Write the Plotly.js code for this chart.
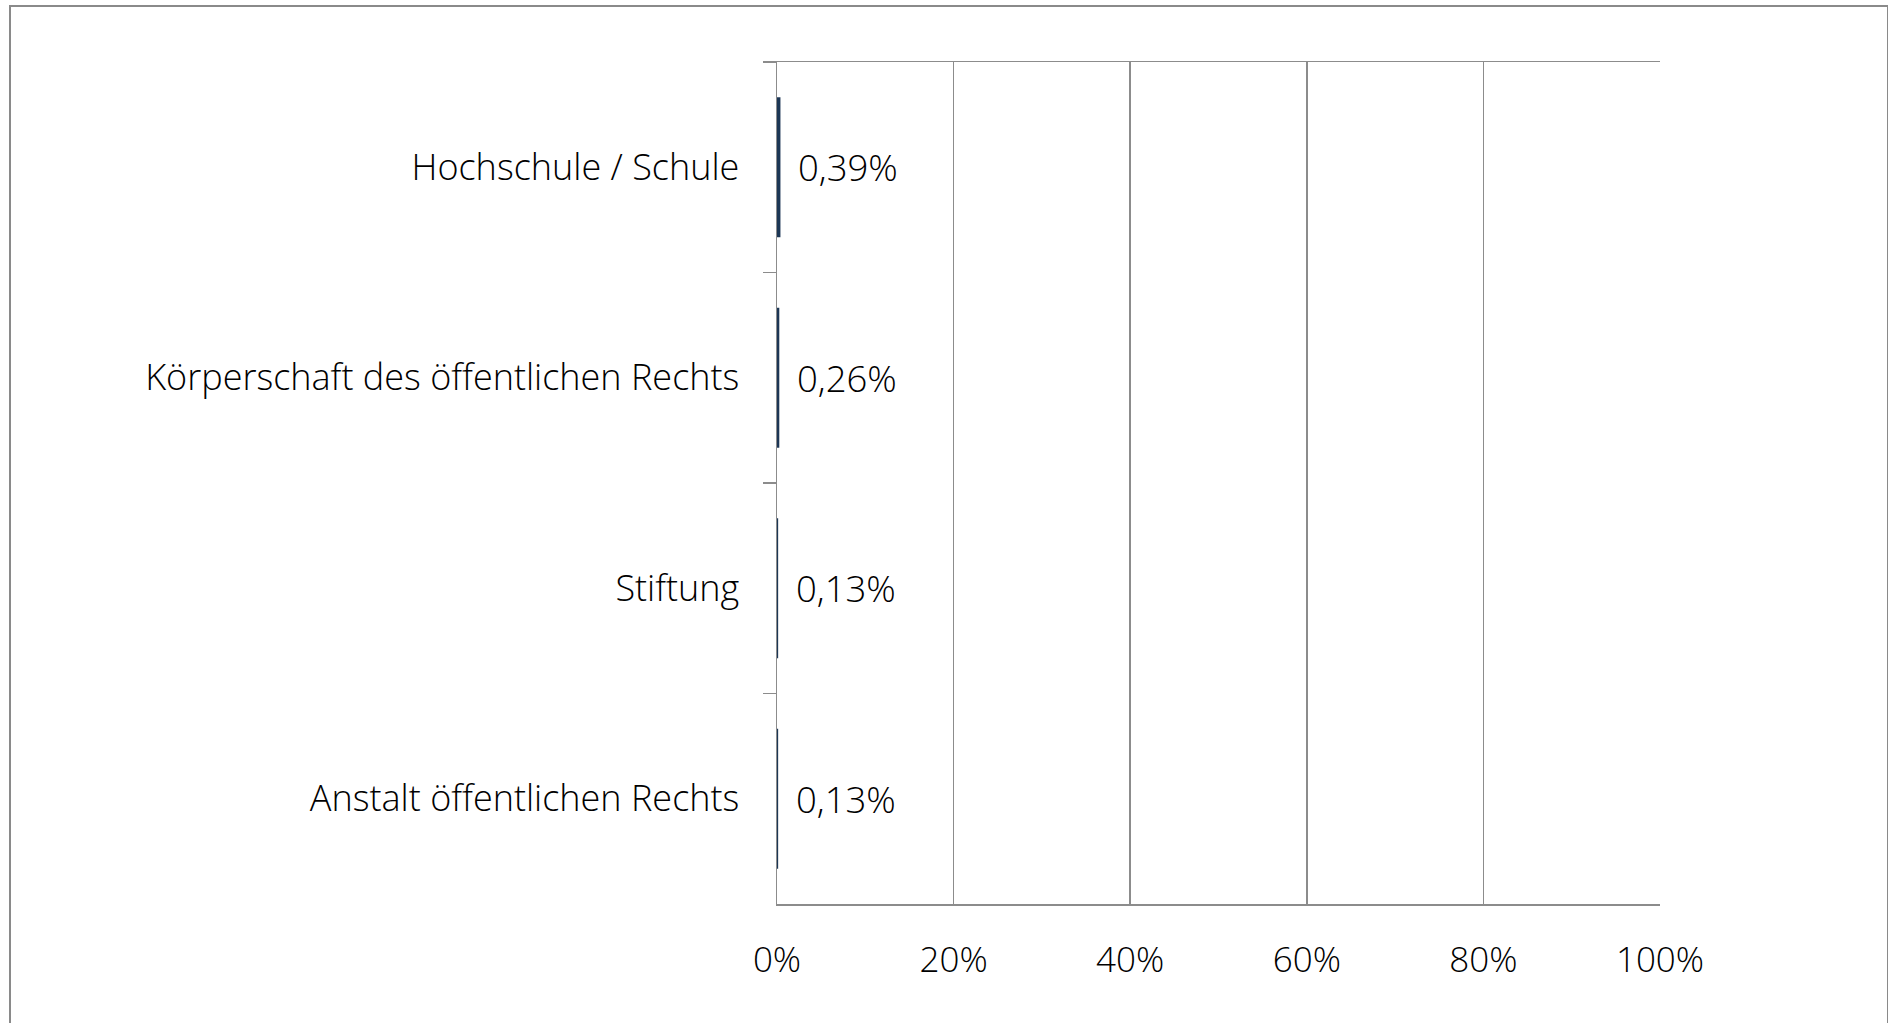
<!DOCTYPE html>
<html>
<head>
<meta charset="utf-8">
<script src="https://cdn.plot.ly/plotly-3.0.1.min.js"></script>
<style>
  html, body { margin: 0; padding: 0; background: #ffffff; }
  #frame { position: absolute; left: 9px; top: 5px; width: 1880px; height: 1030px; border: 2px solid #8a8a8a; box-sizing: border-box; pointer-events: none; z-index: 5; }
  #chart { width: 1888px; height: 1023px; }
</style>
</head>
<body>
<div id="frame"></div>
<div id="chart"></div>
<script>
const categories = ["Hochschule / Schule", "Körperschaft des öffentlichen Rechts", "Stiftung", "Anstalt öffentlichen Rechts"];
const values = [0.0039, 0.0026, 0.0013, 0.0013];
const valueLabels = ["0,39%", "0,26%", "0,13%", "0,13%"];
const xTickValues = [0, 0.2, 0.4, 0.6, 0.8, 1.0];
const xTickLabels = ["0%", "20%", "40%", "60%", "80%", "100%"];

const fontFamily = "Open Sans, Lato, sans-serif";
const gridColor = "#8c8c8c";

const trace = {
  type: "bar",
  orientation: "h",
  x: values,
  y: categories,
  marker: { color: "#1c3655", line: { width: 0 } },
  hoverinfo: "none"
};

const annotations = categories.map((c, i) => ({
  x: values[i], y: c, xref: "x", yref: "y",
  text: valueLabels[i], showarrow: false,
  xanchor: "left", yanchor: "middle", xshift: 16,
  font: { family: fontFamily, size: 36.5, color: "#000000", weight: 300 }
}));

const layout = {
  width: 1888, height: 1023,
  margin: { l: 777, r: 228, t: 62, b: 119 },
  paper_bgcolor: "#ffffff", plot_bgcolor: "#ffffff",
  showlegend: false,
  bargap: 0.335,
  xaxis: {
    range: [0, 1],
    tickvals: xTickValues, ticktext: xTickLabels,
    showgrid: true, gridcolor: gridColor, gridwidth: 1.5,
    showline: true, linecolor: gridColor, linewidth: 1.5, mirror: true,
    zeroline: false, ticks: "",
    ticklabelstandoff: 24,
    tickfont: { family: fontFamily, size: 35, color: "#000000", weight: 300 },
    fixedrange: true
  },
  yaxis: {
    type: "category",
    categoryorder: "array", categoryarray: categories,
    autorange: "reversed",
    tickson: "boundaries",
    ticks: "outside", ticklen: 13, tickcolor: gridColor, tickwidth: 1.5,
    showgrid: false,
    showline: true, linecolor: gridColor, linewidth: 1.5, mirror: false,
    zeroline: false,
    ticklabelstandoff: 29,
    tickfont: { family: fontFamily, size: 36, color: "#000000", weight: 300 },
    fixedrange: true
  },
  annotations: annotations
};

Plotly.newPlot("chart", [trace], layout, { displayModeBar: false, staticPlot: true });
</script>
</body>
</html>
